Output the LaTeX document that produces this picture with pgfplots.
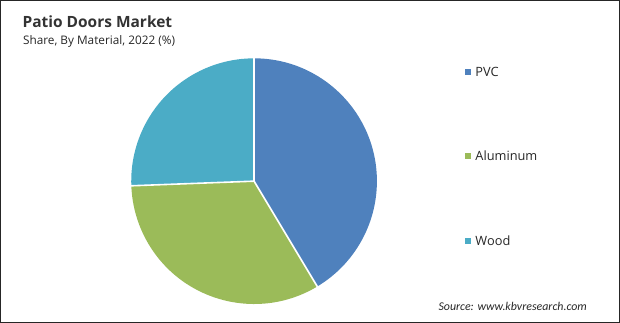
\documentclass[border=0pt]{standalone}
\usepackage{pgfplots}
\pgfplotsset{compat=1.18}
\usepackage{pgfplotstable}
\usepackage{fontspec}
\setmainfont{Open Sans}
\newfontfamily\srcfont{Carlito}
\definecolor{pvc}{HTML}{4F81BD}
\definecolor{alu}{HTML}{9BBB59}
\definecolor{wood}{HTML}{4BACC6}
\pgfplotstableread{
material share
PVC 41.4
Aluminum 33.0
Wood 25.6
}\shares
\begin{document}
\begin{tikzpicture}
\pgfplotstablegetelem{0}{share}\of\shares \let\sA\pgfplotsretval
\pgfplotstablegetelem{1}{share}\of\shares \let\sB\pgfplotsretval
\pgfplotstablegetelem{2}{share}\of\shares \let\sC\pgfplotsretval
\pgfmathsetmacro{\aA}{90-3.6*\sA}
\pgfmathsetmacro{\aB}{\aA-3.6*\sB}
\pgfmathsetmacro{\aC}{\aB-3.6*\sC}
\begin{axis}[scale only axis, width=620pt, height=322pt,
  xmin=0, xmax=620, ymin=0, ymax=322,
  axis line style={draw=black!85, line width=0.8pt},
  xtick=\empty, ytick=\empty, clip=false]
\fill[pvc] (axis cs:254,141) -- ++(90:123pt) arc[start angle=90, end angle=\aA, radius=123pt] -- cycle;
\fill[alu] (axis cs:254,141) -- ++(\aA:123pt) arc[start angle=\aA, end angle=\aB, radius=123pt] -- cycle;
\fill[wood] (axis cs:254,141) -- ++(\aB:123pt) arc[start angle=\aB, end angle=\aC, radius=123pt] -- cycle;
\draw[white, line width=1.6pt] (axis cs:254,141) -- ++(90:123.5pt);
\draw[white, line width=1.6pt] (axis cs:254,141) -- ++(\aA:123.5pt);
\draw[white, line width=1.6pt] (axis cs:254,141) -- ++(\aB:123.5pt);
\node[anchor=west, inner sep=0pt, font=\bfseries\fontsize{15.5}{18}\selectfont, text=black!80] at (axis cs:22,301) {Patio Doors Market};
\node[anchor=west, inner sep=0pt, font=\fontsize{11.8}{13}\selectfont, text=black!85] at (axis cs:22.5,280.5) {Share, By Material, 2022 (\%)};
\fill[pvc] (axis cs:465,247.3) rectangle (axis cs:471,253.3);
\node[anchor=west, inner sep=0pt, font=\fontsize{12.8}{14}\selectfont, text=black!85] at (axis cs:475.5,250.3) {PVC};
\fill[alu] (axis cs:465,163) rectangle (axis cs:471,169);
\node[anchor=west, inner sep=0pt, font=\fontsize{12.8}{14}\selectfont, text=black!85] at (axis cs:475.5,166) {Aluminum};
\fill[wood] (axis cs:465,78.3) rectangle (axis cs:471,84.3);
\node[anchor=west, inner sep=0pt, font=\fontsize{12.8}{14}\selectfont, text=black!85] at (axis cs:475.5,81.3) {Wood};
\node[anchor=west, inner sep=0pt, font=\srcfont\itshape\fontsize{11.9}{13}\selectfont, text=black!85] at (axis cs:438.5,15.3) {Source: www.kbvresearch.com};
\end{axis}
\end{tikzpicture}
\end{document}
